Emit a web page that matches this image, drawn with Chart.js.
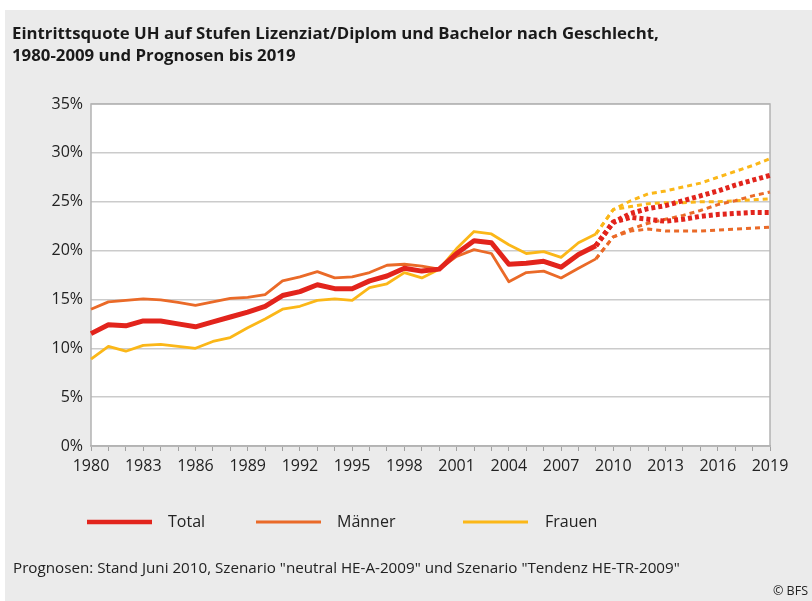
<!DOCTYPE html>
<html>
<head>
<meta charset="utf-8">
<script src="https://cdn.jsdelivr.net/npm/chart.js@4"></script>
<style>
  body { margin: 0; background: #fff; }
  #page { position: relative; width: 812px; height: 601px; overflow: hidden; }
  #bg { position: absolute; left: 5px; top: 10px; right: 0; bottom: 0; background: #ebebeb; }
  #chart { position: absolute; left: 0; top: 0; }
  .title { position: absolute; left: 12px; top: 22px; font: bold 16.8px "Open Sans", sans-serif; line-height: 22px; color: #1a1a1a; }
  .note { position: absolute; left: 13px; top: 557px; font: 15.2px "Open Sans", sans-serif; color: #222; }
  .source { position: absolute; right: 4px; top: 582px; font: 12.5px "Open Sans", sans-serif; color: #222; }
</style>
</head>
<body>
<div id="page">
  <div id="bg"></div>
  <canvas id="chart" width="812" height="601"></canvas>
  <div class="title">Eintrittsquote UH auf Stufen Lizenziat/Diplom und Bachelor nach Geschlecht,<br>1980-2009 und Prognosen bis 2019</div>
  <div class="note">Prognosen: Stand Juni 2010, Szenario "neutral HE-A-2009" und Szenario "Tendenz HE-TR-2009"</div>
  <div class="source">© BFS</div>
</div>
<script>
const years = ['1980', '1981', '1982', '1983', '1984', '1985', '1986', '1987', '1988', '1989',
    '1990', '1991', '1992', '1993', '1994', '1995', '1996', '1997', '1998', '1999',
    '2000', '2001', '2002', '2003', '2004', '2005', '2006', '2007', '2008', '2009',
    '2010', '2011', '2012', '2013', '2014', '2015', '2016', '2017', '2018', '2019'];

// observed 1980-2009 (%)
const total = [11.5, 12.4, 12.3, 12.8, 12.8, 12.5, 12.2, 12.7, 13.2, 13.7,
    14.3, 15.4, 15.8, 16.5, 16.1, 16.1, 16.9, 17.4, 18.2, 17.9,
    18.1, 19.7, 21.0, 20.8, 18.6, 18.7, 18.9, 18.3, 19.6, 20.5];
const maenner = [14.0, 14.75, 14.9, 15.05, 14.95, 14.7, 14.4, 14.75, 15.1, 15.2,
    15.5, 16.9, 17.3, 17.85, 17.2, 17.3, 17.75, 18.5, 18.6, 18.4,
    18.1, 19.4, 20.1, 19.7, 16.8, 17.75, 17.9, 17.2, 18.2, 19.15];
const frauen = [8.9, 10.2, 9.7, 10.3, 10.4, 10.2, 10.0, 10.7, 11.1, 12.1,
    13.0, 14.0, 14.3, 14.9, 15.05, 14.9, 16.2, 16.6, 17.75, 17.2,
    18.1, 20.2, 21.95, 21.7, 20.6, 19.7, 19.9, 19.3, 20.8, 21.7];

// forecasts 2009-2019, two scenarios
const totalHigh = [20.5, 22.9, 23.8, 24.3, 24.6, 25.1, 25.6, 26.1, 26.7, 27.2, 27.7];
const totalLow = [20.5, 22.9, 23.4, 23.2, 23.0, 23.2, 23.5, 23.7, 23.8, 23.9, 23.9];
const maennerHigh = [19.15, 21.4, 22.2, 22.8, 23.2, 23.6, 24.1, 24.7, 25.1, 25.6, 26.0];
const maennerLow = [19.15, 21.4, 22.0, 22.2, 22.0, 22.0, 22.0, 22.1, 22.2, 22.3, 22.4];
const frauenHigh = [21.7, 24.2, 25.1, 25.8, 26.1, 26.5, 26.9, 27.5, 28.1, 28.7, 29.4];
const frauenLow = [21.7, 24.2, 24.5, 24.8, 24.9, 24.9, 25.0, 25.0, 25.1, 25.2, 25.3];

const yTicks = [0, 5, 10, 15, 20, 25, 30, 35];

const RED = '#e2241c';
const ORANGE = '#ea6a28';
const YELLOW = '#fbb718';

const forecastStart = years.indexOf('2009');
function padFront(values) {
    return Array(forecastStart).fill(null).concat(values);
}

function forecast(label, values, color, width, dash) {
    return {
        label: label,
        data: padFront(values),
        borderColor: color,
        borderWidth: width,
        borderDash: dash,
        spanGaps: false
    };
}

const plotFrame = {
    id: 'plotFrame',
    beforeDraw(chart) {
        const a = chart.chartArea;
        const ctx = chart.ctx;
        ctx.save();
        ctx.fillStyle = '#ffffff';
        ctx.fillRect(a.left, a.top, a.right - a.left, a.bottom - a.top);
        ctx.restore();
    },
    beforeDatasetsDraw(chart) {
        const a = chart.chartArea;
        const ctx = chart.ctx;
        ctx.save();
        ctx.strokeStyle = '#b3b3b3';
        ctx.lineWidth = 1.5;
        ctx.strokeRect(a.left, a.top, a.right - a.left, a.bottom - a.top);
        ctx.restore();
    }
};

// legend drawn from the first three datasets
const legendSpots = [
    { x: 87, tx: 168, w: 4.5 },
    { x: 256, tx: 337, w: 3 },
    { x: 463, tx: 545, w: 3 }
];
const lineLegend = {
    id: 'lineLegend',
    afterDraw(chart) {
        const ctx = chart.ctx;
        const y = 522;
        ctx.save();
        legendSpots.forEach((spot, i) => {
            const ds = chart.data.datasets[i];
            ctx.strokeStyle = ds.borderColor;
            ctx.lineWidth = spot.w;
            ctx.beginPath();
            ctx.moveTo(spot.x, y);
            ctx.lineTo(spot.x + 65, y);
            ctx.stroke();
            ctx.fillStyle = '#222';
            ctx.font = '16px "Open Sans", sans-serif';
            ctx.textBaseline = 'middle';
            ctx.fillText(ds.label, spot.tx, y);
        });
        ctx.restore();
    }
};

const ctx = document.getElementById('chart').getContext('2d');
new Chart(ctx, {
    type: 'line',
    data: {
        labels: years,
        datasets: [
            { label: 'Total', data: total, borderColor: RED, borderWidth: 5 },
            { label: 'Männer', data: maenner, borderColor: ORANGE, borderWidth: 2.8 },
            { label: 'Frauen', data: frauen, borderColor: YELLOW, borderWidth: 2.8 },
            forecast('Total Prognose hoch', totalHigh, RED, 5, [4, 3]),
            forecast('Total Prognose tief', totalLow, RED, 5, [4, 3]),
            forecast('Männer Prognose hoch', maennerHigh, ORANGE, 3, [5, 4]),
            forecast('Männer Prognose tief', maennerLow, ORANGE, 3, [5, 4]),
            forecast('Frauen Prognose hoch', frauenHigh, YELLOW, 3, [5, 4]),
            forecast('Frauen Prognose tief', frauenLow, YELLOW, 3, [5, 4])
        ]
    },
    options: {
        responsive: false,
        animation: false,
        layout: { padding: { left: 47, top: 104, right: 42, bottom: 125 } },
        elements: {
            point: { radius: 0 },
            line: { tension: 0, borderJoinStyle: 'round' }
        },
        plugins: {
            legend: { display: false },
            tooltip: { enabled: false }
        },
        scales: {
            x: {
                grid: { drawOnChartArea: false, drawTicks: true, tickLength: 5, color: '#a0a0a0', lineWidth: 1 },
                border: { color: '#b3b3b3', width: 1.5 },
                ticks: {
                    autoSkip: false,
                    maxRotation: 0,
                    padding: 6,
                    color: '#222',
                    font: { family: 'Open Sans', size: 16 },
                    callback: function (value, index) {
                        return index % 3 === 0 ? this.getLabelForValue(value) : '';
                    }
                },
                afterFit: scale => { scale.height = 30; }
            },
            y: {
                min: yTicks[0],
                max: yTicks[yTicks.length - 1],
                afterBuildTicks: scale => { scale.ticks = yTicks.map(v => ({ value: v })); },
                grid: { color: '#cbcbcb', lineWidth: 1.5, drawTicks: false },
                border: { display: false },
                ticks: {
                    padding: 8,
                    color: '#222',
                    font: { family: 'Open Sans', size: 16 },
                    callback: v => v + '%'
                },
                afterFit: scale => { scale.width = 44; }
            }
        }
    },
    plugins: [plotFrame, lineLegend]
});
</script>
</body>
</html>
